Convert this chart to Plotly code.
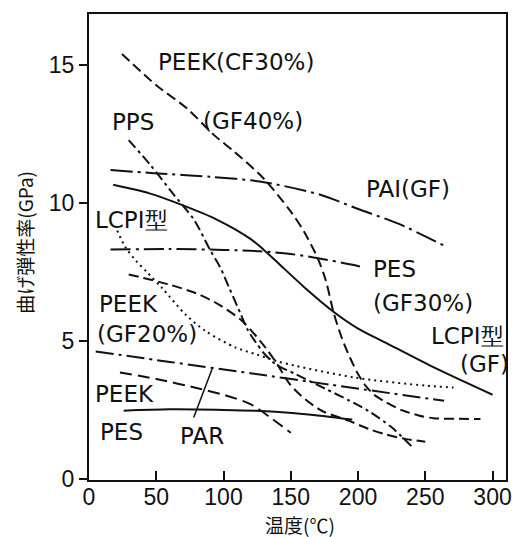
import plotly.graph_objects as go

# ---- data (temperature in deg C, flexural modulus in GPa) ----
peek_cf30_x = [24.5, 50, 73, 93, 108, 130, 150, 160, 170, 176, 182, 188, 194, 200, 206, 212, 220, 232, 245, 256, 275, 291]
peek_cf30_y = [15.4, 14.27, 13.42, 12.46, 11.86, 10.88, 9.69, 8.95, 8.0, 7.2, 6.0, 5.1, 4.4, 3.8, 3.35, 3.05, 2.8, 2.5, 2.3, 2.2, 2.18, 2.17]

pps_gf40_x = [29.5, 45.6, 63, 78, 90, 97.7, 104, 113, 118, 124, 131, 139, 153.5, 176, 193, 208, 225, 241.6]
pps_gf40_y = [12.28, 11.38, 10.3, 9.4, 8.3, 7.65, 6.95, 5.95, 5.4, 4.95, 4.5, 4.15, 3.8, 3.26, 2.85, 2.45, 1.87, 1.09]

pai_gf_x = [16, 48, 90, 127, 172, 199, 230, 265]
pai_gf_y = [11.2, 11.08, 10.95, 10.78, 10.3, 9.8, 9.25, 8.43]

pes_gf30_x = [16, 60, 100, 127.5, 150, 170, 195, 205]
pes_gf30_y = [8.31, 8.33, 8.3, 8.25, 8.15, 8.0, 7.77, 7.65]

lcpi_gf_x = [18, 45, 68, 95, 120, 130, 140, 160, 182, 200, 220, 256, 300]
lcpi_gf_y = [10.66, 10.35, 9.95, 9.4, 8.7, 8.3, 7.85, 6.95, 6.05, 5.45, 4.95, 4.05, 3.05]

lcpi_x = [21, 27, 35, 43, 54.3, 71.7, 86.6, 109, 124, 138.7, 153.5, 198, 250, 271]
lcpi_y = [9.0, 8.4, 7.9, 7.5, 6.92, 5.96, 5.36, 4.76, 4.52, 4.28, 4.10, 3.67, 3.38, 3.31]

peek_gf20_x = [29.5, 59.2, 80, 96.5, 113.9, 131.2, 140, 149, 158, 173, 193, 208, 220, 235, 250]
peek_gf20_y = [7.41, 7.05, 6.72, 6.32, 5.72, 4.76, 4.15, 3.45, 3.0, 2.47, 2.11, 1.81, 1.62, 1.45, 1.35]

par_x = [5, 60, 120, 180, 264]
par_y = [4.62, 4.24, 3.83, 3.41, 2.83]

peek_x = [23, 50, 83, 100, 120, 135, 150]
peek_y = [3.86, 3.62, 3.26, 3.05, 2.71, 2.22, 1.67]

pes_x = [25.8, 60, 100, 124, 146, 170, 195.7]
pes_y = [2.47, 2.52, 2.5, 2.47, 2.41, 2.3, 2.15]

x_ticks = [0, 50, 100, 150, 200, 250, 300]
y_ticks = [0, 5, 10, 15]

# labels: (text, x, y)
labels = [
    ("PEEK(CF30%)", 49.5, 15.1),
    ("PPS", 15.9, 12.94),
    ("(GF40%)", 83, 12.98),
    ("PAI(GF)", 204.2, 10.52),
    ("LCPI型", 3.3, 9.37),
    ("PES", 209.4, 7.6),
    ("(GF30%)", 209.4, 6.38),
    ("LCPI型", 252.5, 5.18),
    ("(GF)", 274, 4.17),
    ("PEEK", 6.2, 6.35),
    ("(GF20%)", 4.7, 5.25),
    ("PEEK", 3.3, 3.07),
    ("PES", 7, 1.71),
    ("PAR", 66.5, 1.57),
]
par_leader = (91.5, 3.98, 77.4, 2.17)

BLACK = "#111111"
series = [
    (peek_cf30_x, peek_cf30_y, "10px,5px", 2),
    (pps_gf40_x, pps_gf40_y, "10px,4px,3px,4px", 2),
    (pai_gf_x, pai_gf_y, "22px,5px,3px,5px", 2),
    (pes_gf30_x, pes_gf30_y, "20px,5px,3px,5px", 2),
    (lcpi_gf_x, lcpi_gf_y, "solid", 2),
    (lcpi_x, lcpi_y, "2px,4px", 2),
    (peek_gf20_x, peek_gf20_y, "10px,5px", 2),
    (par_x, par_y, "18px,5px,3px,5px", 2),
    (peek_x, peek_y, "12px,6px", 2),
    (pes_x, pes_y, "solid", 2),
]

fig = go.Figure()
for xs, ys, dash, w in series:
    fig.add_trace(go.Scatter(x=xs, y=ys, mode="lines",
                             line=dict(color=BLACK, width=w, dash=dash, shape="spline", smoothing=0.8),
                             showlegend=False, hoverinfo="skip"))

LFONT = dict(family="DejaVu Sans", size=23, color=BLACK)
for text, x, y in labels:
    fig.add_annotation(x=x, y=y, text=text, showarrow=False, xanchor="left", yanchor="middle",
                       font=LFONT)

fig.add_annotation(x=par_leader[0], y=par_leader[1], ax=par_leader[2], ay=par_leader[3],
                   axref="x", ayref="y", xref="x", yref="y", text="", showarrow=True,
                   arrowhead=0, arrowwidth=1.5, arrowcolor=BLACK)

fig.add_annotation(xref="paper", yref="paper", x=-0.155, y=0.51, text="曲げ弾性率(GPa)",
                   textangle=-90, showarrow=False, xanchor="center", yanchor="middle",
                   font=dict(family="Noto Sans CJK JP", size=19, color=BLACK))
fig.add_annotation(xref="paper", yref="paper", x=0.507, y=-0.096, text="温度(℃)",
                   showarrow=False, xanchor="center", yanchor="middle",
                   font=dict(family="Noto Sans CJK JP", size=19, color=BLACK))

TFONT = dict(family="Liberation Sans", size=23, color=BLACK)
fig.update_xaxes(range=[0, 310], tickvals=x_ticks, ticktext=[str(v) for v in x_ticks],
                 ticks="inside", ticklen=9, tickwidth=2, tickcolor=BLACK,
                 showline=True, linewidth=2, linecolor=BLACK, mirror=True,
                 showgrid=False, zeroline=False, tickfont=TFONT, ticklabelstandoff=-5)
fig.update_yaxes(range=[-0.04, 16.85], tickvals=y_ticks, ticktext=[str(v) for v in y_ticks],
                 ticks="outside", ticklen=8, tickwidth=2, tickcolor=BLACK,
                 showline=True, linewidth=2, linecolor=BLACK, mirror=True,
                 showgrid=False, zeroline=False, tickfont=TFONT)

fig.update_layout(width=525, height=537, margin=dict(l=89, r=19, t=12, b=57),
                  paper_bgcolor="white", plot_bgcolor="white")

fig.write_html("out.html")
